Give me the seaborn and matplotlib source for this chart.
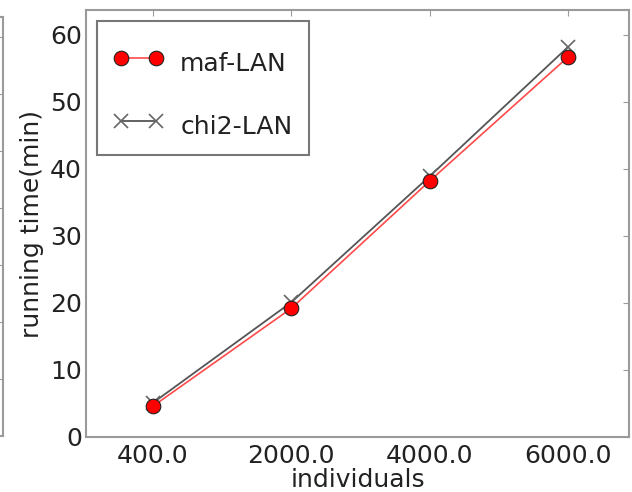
import matplotlib
matplotlib.use("Agg")
import matplotlib.pyplot as plt
import seaborn as sns
import pandas as pd

categories = ["400.0", "2000.0", "4000.0", "6000.0"]
maf_lan = [4.6, 19.2, 38.2, 56.7]
chi2_lan = [5.1, 20.1, 38.9, 58.2]
y_ticks = [0, 10, 20, 30, 40, 50, 60]

sns.set_style("white")
plt.rcParams["font.family"] = ["DejaVu Sans"]

W, H = 632, 492
fig = plt.figure(figsize=(W / 100, H / 100), dpi=100)

spine_col = "#9a9a9a"
text_col = "#222222"

# partial neighbour panel at the far left (only its right edge is visible)
axl = fig.add_axes([-0.30, (492 - 436) / H, 0.30 + 3.5 / W, (436 - 17) / H])
axl.set_xlim(0, 1)
axl.set_ylim(0, 7.35)
axl.set_yticks([1, 2, 3, 4, 5, 6, 7])
axl.set_xticks([])
axl.yaxis.tick_right()
axl.tick_params(axis="y", direction="in", length=4, color=spine_col, labelright=False)
for s in axl.spines.values():
    s.set_color(spine_col)
    s.set_linewidth(1.5)

left, right, top, bottom = 86, 629, 10, 437
ax = fig.add_axes([left / W, (H - bottom) / H, (right - left) / W, (bottom - top) / H])

pos = list(range(len(categories)))
df = pd.DataFrame({"x": pos + pos,
                   "y": maf_lan + chi2_lan,
                   "series": ["maf-LAN"] * len(pos) + ["chi2-LAN"] * len(pos)})

sns.lineplot(data=df[df.series == "maf-LAN"], x="x", y="y", ax=ax, color="#ff4a4a",
             linewidth=1.2, marker="o", markersize=10.5, markerfacecolor="red",
             markeredgecolor="#222222", markeredgewidth=0.8, label="maf-LAN", zorder=3)
sns.lineplot(data=df[df.series == "chi2-LAN"], x="x", y="y", ax=ax, color="#555555",
             linewidth=1.3, marker="x", markersize=10, markeredgecolor="#666666",
             markeredgewidth=1.2, label="chi2-LAN", zorder=2)

ax.set_xlim(-0.484, 3.44)
ax.set_ylim(0, 63.7)
ax.set_xticks(pos)
ax.set_xticklabels(categories)
ax.set_yticks(y_ticks)
ax.tick_params(axis="both", direction="in", length=4, color=spine_col,
               labelsize=18, labelcolor=text_col, top=True, right=True)
ax.tick_params(axis="y", pad=3)
ax.tick_params(axis="x", pad=5)
for s in ax.spines.values():
    s.set_color(spine_col)
    s.set_linewidth(1.5)

ax.set_xlabel("individuals", fontsize=18, color=text_col, labelpad=0)
ax.set_ylabel("running time(min)", fontsize=18, color=text_col, labelpad=4)

leg = ax.legend(loc="upper left", numpoints=2, fontsize=18, frameon=True, fancybox=False,
                labelspacing=1.33, handlelength=2.0, handleheight=1.46, handletextpad=0.68,
                borderpad=0.64, borderaxespad=0.45, title=" ", title_fontsize=1)
# extra room above the first entry and labels sitting low in their rows, as in the reference
leg._legend_box.sep = 5.6
for col in leg._legend_handle_box.get_children():
    for item in col.get_children():
        item.align = "bottom"
leg.get_frame().set_edgecolor("#555555")
leg.get_frame().set_linewidth(1.5)
for t in leg.get_texts():
    t.set_color(text_col)

fig.savefig("out.png", dpi=100)
